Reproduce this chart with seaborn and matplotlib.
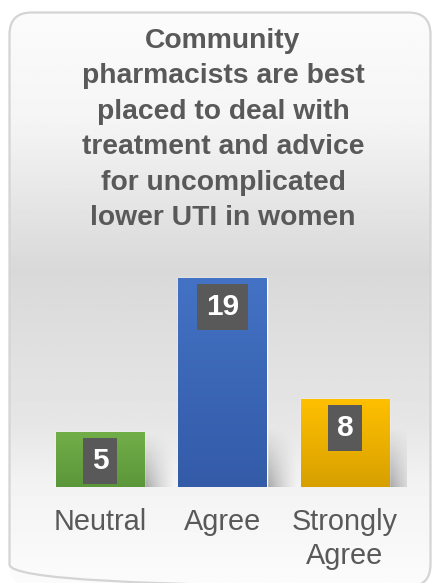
"""Survey bar chart: community pharmacists and uncomplicated lower UTI."""

import matplotlib

matplotlib.use("Agg")

import matplotlib.pyplot as plt
import numpy as np
import seaborn as sns
from matplotlib.colors import LinearSegmentedColormap
from matplotlib.patches import FancyBboxPatch

categories = ["Neutral", "Agree", "Strongly\nAgree"]
responses = [5, 19, 8]
bar_top_colors = ["#72ae48", "#4472c4", "#ffc000"]
bar_bottom_colors = ["#5b963a", "#335ba8", "#d7a000"]
title = ("Community\npharmacists are best\nplaced to deal with\n"
         "treatment and advice\nfor uncomplicated\nlower UTI in women")

TEXT = "#595959"

sns.set_theme(style="white")
plt.rcParams["font.family"] = ["Liberation Sans", "DejaVu Sans"]

W, H = 432, 583
fig = plt.figure(figsize=(W / 100, H / 100), dpi=100)
fig.patch.set_facecolor("white")

# --- rounded card with vertical grey gradient -------------------------------
bg = fig.add_axes([0, 0, 1, 1])
bg.set_xlim(0, W)
bg.set_ylim(H, 0)
bg.axis("off")
card = FancyBboxPatch((9.5, 12.5), 421, 574,
                      boxstyle="round,pad=0,rounding_size=22",
                      facecolor="none", edgecolor="#d4d4d4", linewidth=1.6,
                      zorder=3)
bg.add_patch(card)
grad_y = np.linspace(0, H, 300)
shade = np.interp(grad_y, [12, 120, 270, 420, 490, 583],
                  [0.985, 0.96, 0.85, 0.90, 0.955, 0.985])
img = np.repeat(shade[:, None], 2, axis=1)
im = bg.imshow(img, cmap="gray", vmin=0, vmax=1, extent=(0, W, H, 0),
               aspect="auto", zorder=1)
im.set_clip_path(card)

bg.text(223, 28, title, ha="center", va="top", fontsize=20.3,
        fontweight="bold", color=TEXT, linespacing=1.47, zorder=4)

# --- bars ---------------------------------------------------------------------
ax = fig.add_axes([38.75 / W, 96 / H, 367.5 / W, 220 / H])
ax.patch.set_alpha(0)
sns.barplot(x=categories, y=responses, hue=categories,
            palette=bar_top_colors, saturation=1, width=0.72,
            legend=False, ax=ax, zorder=3)
ax.set_xlim(-0.5, 2.5)
ax.set_ylim(0, 20)

for patch, c_top, c_bot in zip(ax.patches, bar_top_colors, bar_bottom_colors):
    x0, y0 = patch.get_x(), patch.get_y()
    w, h = patch.get_width(), patch.get_height()
    # soft shadow to the lower right of the bar
    sy = np.linspace(0, 1, 40)[:, None]
    sx = np.linspace(0, 1, 40)[None, :]
    alpha = 0.32 * (1 - sx) ** 1.4 * np.clip(1 - sy, 0, 1) ** 1.1
    shadow = np.zeros((40, 40, 4))
    shadow[..., 3] = alpha
    sh_h = min(h, 5.5)
    ax.imshow(shadow, extent=(x0 + w, x0 + w + 0.26, 0, sh_h), origin="lower",
              aspect="auto", zorder=2, interpolation="bilinear")
    # vertical gradient fill clipped to the bar
    cmap = LinearSegmentedColormap.from_list("bar", [c_bot, c_top])
    gimg = ax.imshow(np.linspace(0, 1, 100)[:, None], cmap=cmap,
                     extent=(x0, x0 + w, y0, y0 + h), origin="lower",
                     aspect="auto", zorder=4)
    gimg.set_clip_path(patch)
    ax.annotate(f"{h:.0f}", (x0 + w / 2, y0 + h), xytext=(0, -21),
                textcoords="offset points", ha="center", va="center",
                fontsize=21.5, fontweight="bold", color="white", zorder=6,
                bbox=dict(boxstyle="square,pad=0.3", facecolor=TEXT,
                          edgecolor="none"))

ax.set_xlim(-0.5, 2.5)
ax.set_ylim(0, 20)
ax.set_xlabel("")
ax.set_ylabel("")
ax.set_yticks([])
ax.tick_params(axis="x", length=0, pad=15, labelsize=20.8,
               labelcolor=TEXT)
for lbl in ax.get_xticklabels():
    lbl.set_linespacing(1.3)
sns.despine(ax=ax, left=True, bottom=True)

fig.savefig("out.png", dpi=100)
